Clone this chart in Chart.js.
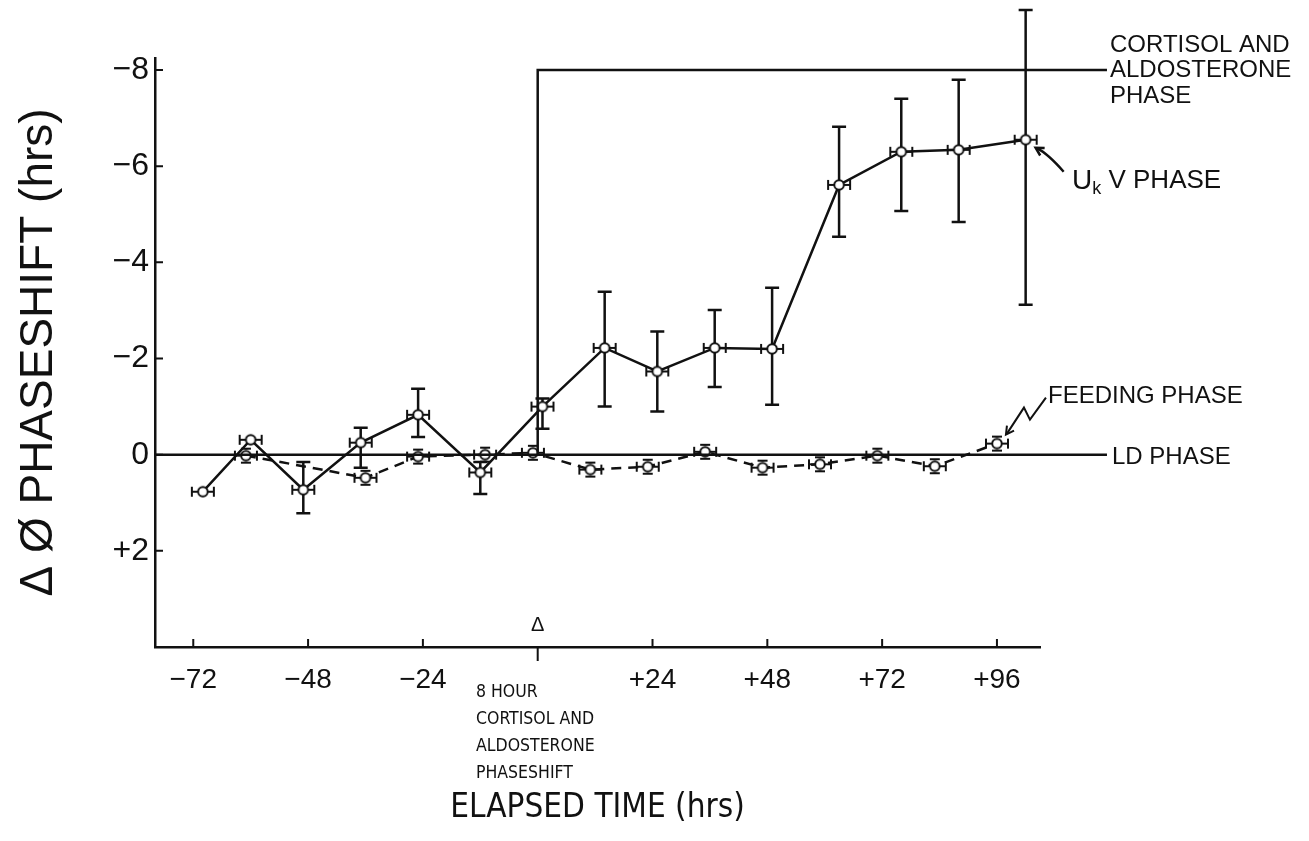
<!DOCTYPE html>
<html>
<head>
<meta charset="utf-8">
<title>Phaseshift</title>
<script src="https://cdn.jsdelivr.net/npm/chart.js@4.4.1/dist/chart.umd.min.js"></script>
<style>
  html, body { margin: 0; padding: 0; background: #fff; }
</style>
</head>
<body>
<canvas id="phaseChart" width="1309" height="841"></canvas>
<script>
// Tick values (hrs)
const xTicks = [-72, -48, -24, 0, 24, 48, 72, 96];
const yTicks = [-8, -6, -4, -2, 0, 2];

// UkV phase (solid line) with error bars
const ukvHours = [-70, -60, -49, -37, -25, -12, 1, 14, 25, 37, 49, 63, 76, 88, 102];
const ukvPhase = [0.77, -0.31, 0.73, -0.25, -0.83, 0.37, -1.0, -2.22, -1.73, -2.22, -2.2, -5.61, -6.3, -6.34, -6.55];
const ukvErrTop = [null, null, 0.15, -0.56, -1.37, 0.15, -1.17, -3.39, -2.56, -3.01, -3.47, -6.82, -7.4, -7.8, -9.25];
const ukvErrBottom = [null, null, 1.22, 0.27, -0.37, 0.82, -0.54, -1.0, -0.9, -1.41, -1.04, -4.53, -5.07, -4.84, -3.12];

// Feeding phase (dashed line)
const feedHours = [-61, -36, -25, -11, -1, 11, 23, 35, 47, 59, 71, 83, 96];
const feedPhase = [0.02, 0.48, 0.04, 0.0, -0.04, 0.31, 0.25, -0.06, 0.27, 0.2, 0.02, 0.24, -0.23];

// LD phase and cortisol/aldosterone phase
const ldHours = [-80, 119];
const ldPhase = [0, 0];
const cortHours = [0, 0, 119];
const cortPhase = [0, -8, -8];

const ink = "#111";
const plainFont = "'Liberation Sans', Arial, sans-serif";
const narrowFont = "'DejaVu Sans Condensed', 'Liberation Sans', sans-serif";

function toPoints(xs, ys) {
    return xs.map((v, i) => ({ x: v, y: ys[i] }));
}

// Marker: small circle with horizontal whiskers
function makeMarker(boxed) {
    const c = document.createElement("canvas");
    c.width = 26;
    c.height = 18;
    const g = c.getContext("2d");
    g.strokeStyle = ink;
    g.lineWidth = 2;
    g.beginPath();
    g.moveTo(2, 9); g.lineTo(24, 9);
    g.moveTo(2, 4); g.lineTo(2, 14);
    g.moveTo(24, 4); g.lineTo(24, 14);
    if (boxed) {
        g.moveTo(8, 2); g.lineTo(18, 2);
        g.moveTo(8, 16); g.lineTo(18, 16);
    }
    g.stroke();
    g.beginPath();
    g.arc(13, 9, 4.8, 0, Math.PI * 2);
    g.fillStyle = "#fff";
    g.fill();
    g.stroke();
    return c;
}

function arrowHead(ctx, fx, fy, tx, ty, size) {
    const a = Math.atan2(ty - fy, tx - fx);
    ctx.beginPath();
    ctx.moveTo(tx - size * Math.cos(a - 0.5), ty - size * Math.sin(a - 0.5));
    ctx.lineTo(tx, ty);
    ctx.lineTo(tx - size * Math.cos(a + 0.5), ty - size * Math.sin(a + 0.5));
    ctx.stroke();
}

// Error bars, inward ticks and the hand lettered notes
const extrasPlugin = {
    id: "extras",
    beforeDatasetsDraw(chart) {
        const { ctx, scales: { x, y } } = chart;
        ctx.save();
        ctx.strokeStyle = ink;
        ctx.lineWidth = 2.5;
        ukvHours.forEach((h, i) => {
            if (ukvErrTop[i] === null) return;
            const px = x.getPixelForValue(h);
            const top = y.getPixelForValue(ukvErrTop[i]);
            const bot = y.getPixelForValue(ukvErrBottom[i]);
            ctx.beginPath();
            ctx.moveTo(px, top); ctx.lineTo(px, bot);
            ctx.moveTo(px - 7, top); ctx.lineTo(px + 7, top);
            ctx.moveTo(px - 7, bot); ctx.lineTo(px + 7, bot);
            ctx.stroke();
        });
        ctx.restore();
    },
    afterDraw(chart) {
        const { ctx, chartArea, scales: { x, y } } = chart;
        ctx.save();
        ctx.strokeStyle = ink;
        ctx.fillStyle = ink;
        ctx.lineWidth = 2;

        // ticks pointing into the plot
        ctx.beginPath();
        xTicks.forEach(v => {
            const px = x.getPixelForValue(v);
            ctx.moveTo(px, chartArea.bottom);
            ctx.lineTo(px, chartArea.bottom - (v === 0 ? 0 : 8));
            if (v === 0) ctx.lineTo(px, chartArea.bottom + 14);
        });
        yTicks.forEach(v => {
            const py = y.getPixelForValue(v);
            ctx.moveTo(chartArea.left, py);
            ctx.lineTo(chartArea.left + 8, py);
        });
        ctx.stroke();

        // shift marker at time 0
        const x0 = x.getPixelForValue(0);
        ctx.font = "20px " + plainFont;
        ctx.textAlign = "center";
        ctx.textBaseline = "middle";
        ctx.fillText("Δ", x0, chartArea.bottom - 22);

        ctx.textAlign = "left";
        ctx.font = "24px " + plainFont;
        ["CORTISOL AND", "ALDOSTERONE", "PHASE"].forEach((t, i) => ctx.fillText(t, 1110, 45 + i * 25.5));
        ctx.fillText("FEEDING PHASE", 1048, 396);
        ctx.fillText("LD PHASE", 1112, 457);

        // UkV label with subscript
        ctx.font = "28px " + plainFont;
        ctx.fillText("U", 1072, 181);
        let ux = 1072 + ctx.measureText("U").width;
        ctx.font = "18px " + plainFont;
        ctx.fillText("k", ux, 189);
        ux += ctx.measureText("k").width;
        ctx.font = "26px " + plainFont;
        ctx.fillText(" V PHASE", ux, 181);

        ctx.font = "17.5px " + narrowFont;
        ["8 HOUR", "CORTISOL AND", "ALDOSTERONE", "PHASESHIFT"].forEach((t, i) => ctx.fillText(t, 476, 692 + i * 27));

        // arrow to the last UkV point
        const uLast = ukvHours.length - 1;
        const ux0 = x.getPixelForValue(ukvHours[uLast]);
        const uy0 = y.getPixelForValue(ukvPhase[uLast]);
        ctx.lineWidth = 2.5;
        ctx.beginPath();
        ctx.moveTo(ux0 + 38, uy0 + 32);
        ctx.quadraticCurveTo(ux0 + 22, uy0 + 14, ux0 + 12, uy0 + 9);
        ctx.stroke();
        arrowHead(ctx, ux0 + 20, uy0 + 14, ux0 + 10, uy0 + 8, 9);

        // zigzag arrow to the last feeding point
        const fLast = feedHours.length - 1;
        const fx0 = x.getPixelForValue(feedHours[fLast]);
        const fy0 = y.getPixelForValue(feedPhase[fLast]);
        ctx.lineWidth = 2;
        ctx.beginPath();
        ctx.moveTo(fx0 + 49, fy0 - 46);
        ctx.lineTo(fx0 + 33, fy0 - 24);
        ctx.lineTo(fx0 + 27, fy0 - 36);
        ctx.lineTo(fx0 + 10, fy0 - 10);
        ctx.stroke();
        arrowHead(ctx, fx0 + 16, fy0 - 19, fx0 + 9, fy0 - 9, 9);
        ctx.restore();
    }
};

function tickLabel(v) {
    if (v === 0) return "0";
    return v > 0 ? "+" + v : "\u2212" + Math.abs(v);
}

function createChart() {
    const ctx = document.getElementById("phaseChart").getContext("2d");
    return new Chart(ctx, {
        type: "scatter",
        data: {
            datasets: [
                {
                    label: "LD phase",
                    data: toPoints(ldHours, ldPhase),
                    showLine: true,
                    borderColor: ink,
                    borderWidth: 2.5,
                    pointRadius: 0,
                    clip: false
                },
                {
                    label: "Cortisol and aldosterone phase",
                    data: toPoints(cortHours, cortPhase),
                    showLine: true,
                    borderColor: ink,
                    borderWidth: 2.5,
                    pointRadius: 0,
                    clip: false
                },
                {
                    label: "Feeding phase",
                    data: toPoints(feedHours, feedPhase),
                    showLine: true,
                    borderColor: ink,
                    borderWidth: 2.5,
                    borderDash: [10, 7],
                    pointStyle: makeMarker(true),
                    clip: false
                },
                {
                    label: "UkV phase",
                    data: toPoints(ukvHours, ukvPhase),
                    showLine: true,
                    borderColor: ink,
                    borderWidth: 2.5,
                    pointStyle: makeMarker(false),
                    clip: false
                }
            ]
        },
        options: {
            responsive: false,
            animation: false,
            layout: { padding: { left: 0, right: 269, top: 58, bottom: 0 } },
            plugins: {
                legend: { display: false },
                tooltip: { enabled: false }
            },
            scales: {
                x: {
                    type: "linear",
                    min: -80,
                    max: 105,
                    afterBuildTicks: s => { s.ticks = xTicks.map(v => ({ value: v })); },
                    afterFit: s => { s.height = 194; },
                    grid: { display: false, drawTicks: false },
                    border: { color: ink, width: 2.5 },
                    ticks: {
                        padding: 16,
                        color: ink,
                        font: { family: plainFont, size: 28 },
                        callback: v => (v === 0 ? "" : tickLabel(v))
                    },
                    title: {
                        display: true,
                        text: "ELAPSED TIME (hrs)",
                        color: ink,
                        font: { family: narrowFont, size: 33 },
                        padding: { top: 0, bottom: 13 }
                    }
                },
                y: {
                    type: "linear",
                    reverse: true,
                    min: -8.25,
                    max: 4,
                    afterBuildTicks: s => { s.ticks = yTicks.map(v => ({ value: v })); },
                    afterFit: s => { s.width = 155; },
                    grid: { display: false, drawTicks: false },
                    border: { color: ink, width: 2.5 },
                    ticks: {
                        padding: 6,
                        color: ink,
                        font: { family: plainFont, size: 32 },
                        callback: v => tickLabel(v)
                    },
                    title: {
                        display: true,
                        text: "Δ Ø PHASESHIFT (hrs)",
                        color: ink,
                        font: { family: plainFont, size: 46 },
                        padding: { top: 12, bottom: 0 }
                    }
                }
            }
        },
        plugins: [extrasPlugin]
    });
}

document.addEventListener("DOMContentLoaded", () => {
    createChart();
});
</script>
</body>
</html>
